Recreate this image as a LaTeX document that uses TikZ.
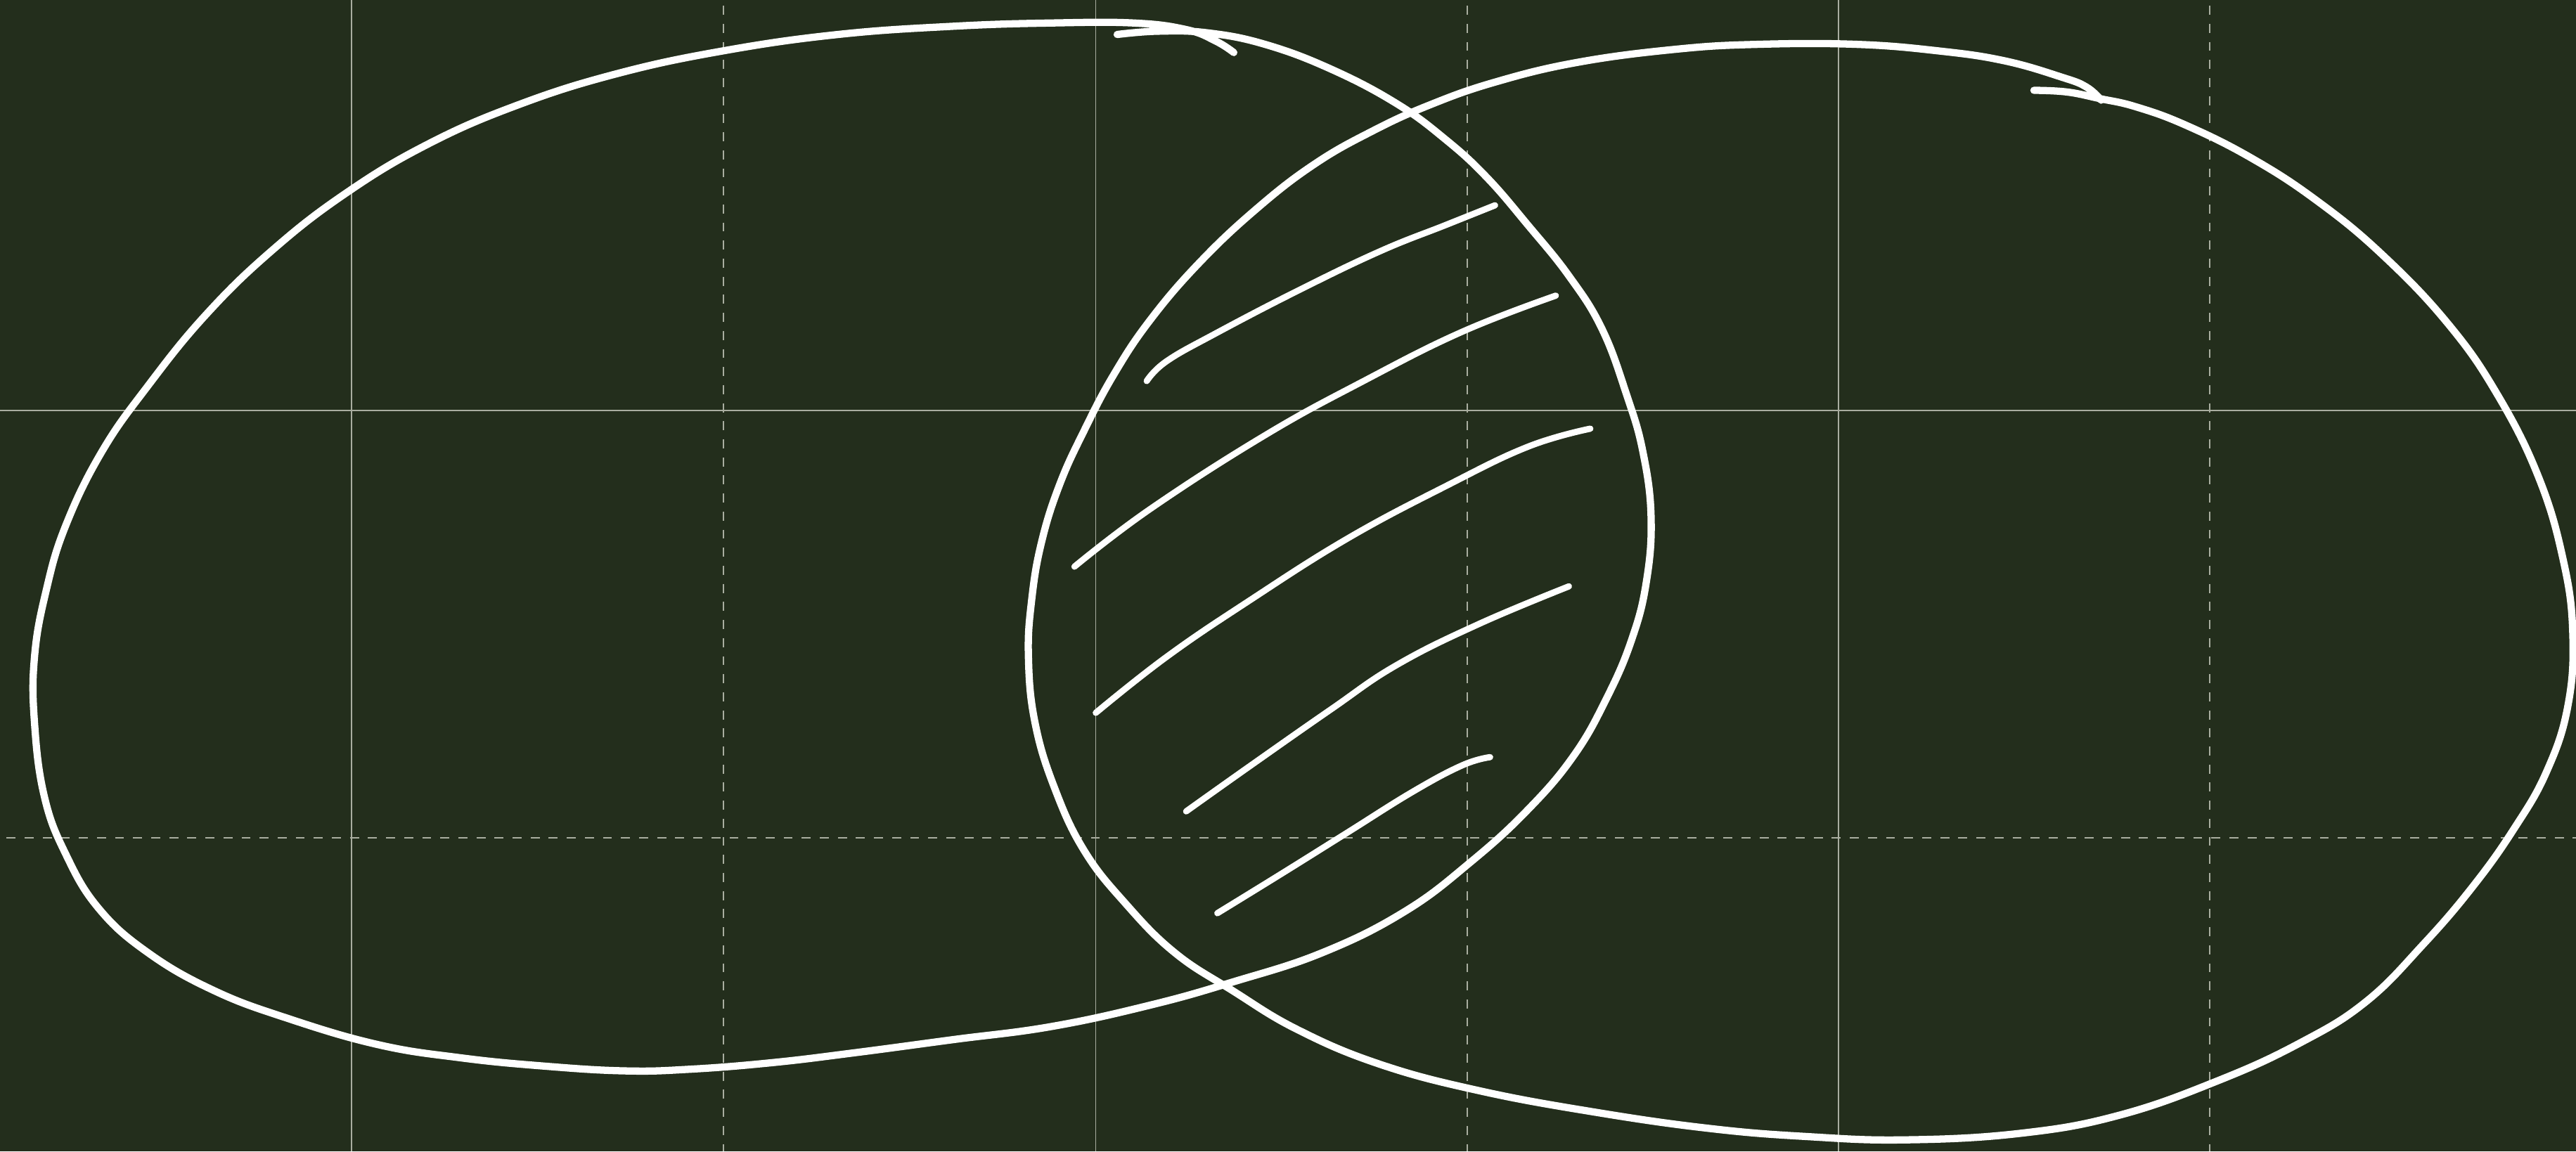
\documentclass[tikz,border=0pt]{standalone}
\definecolor{bgc}{HTML}{232E1C}
\definecolor{gridc}{HTML}{A9AEA0}
\tikzset{
  gridsolid/.style={draw=gridc, line width=0.7pt},
  griddash/.style={draw=gridc, line width=0.7pt, dash pattern=on 5.5pt off 5.5pt},
  ink/.style={draw=white, line width=4.4pt, line cap=round, line join=round},
  hatch/.style={draw=white, line width=3.8pt, line cap=round, line join=round},
}
\begin{document}
\begin{tikzpicture}[x=1pt,y=-1pt]
\fill[bgc] (0,0) rectangle (1568,701);
\useasboundingbox (0,0) rectangle (1568,701);
% grid
\foreach \gx in {214,667,1119} \draw[gridsolid] (\gx,0) -- (\gx,701);
\foreach \gx in {440.4,893.1,1345} \draw[griddash] (\gx,3.5) -- (\gx,701);
\draw[gridsolid] (0,250) -- (1568,250);
\draw[griddash] (4,510) -- (1568,510);
% left ellipse
\draw[ink] plot[smooth, tension=0.7] coordinates {
(680,21) (705,19) (735,20) (770,27) (810,42) (850,63) (880,85) (905,108) (930,137) (955,168) (975,200) (990,240) (1000,275) (1005,315) (1002,355) (993,390) (978,425) (958,460) (930,493) (895,525) (855,555) (805,580) (750,598) (700,612) (640,625) (580,633) (520,641) (470,647) (420,651) (380,652) (330,649) (280,644) (230,636) (175,620) (130,603) (90,580) (60,553) (40,520) (27,485) (21,440) (21,400) (28,360) (40,320) (62,275) (90,235) (125,192) (165,153) (210,118) (260,88) (315,64) (375,45) (440,31) (510,21) (580,16) (640,14) (690,14) (722,18) (740,25) (751,32)};
% right ellipse
\draw[ink] plot[smooth, tension=0.7] coordinates {
(1238,55) (1258,56) (1278,60) (1300,65) (1330,76) (1370,96) (1410,122) (1450,155) (1490,197) (1520,240) (1545,290) (1560,340) (1566,385) (1563,430) (1550,470) (1530,505) (1505,540) (1475,575) (1440,610) (1400,635) (1350,658) (1290,679) (1230,690) (1160,694) (1100,692) (1040,687) (970,677) (900,664) (840,648) (790,627) (750,603) (715,580) (685,550) (660,518) (642,480) (630,440) (626,400) (628,365) (634,330) (645,295) (660,262) (678,228) (700,195) (730,160) (765,127) (800,100) (835,80) (870,64) (910,50) (960,38) (1020,30) (1070,27) (1130,27) (1180,31) (1220,37) (1255,47) (1270,53) (1279,61)};
% hatching
\draw[hatch] plot[smooth, tension=0.7] coordinates {(698,232) (710,220) (740,203) (790,177) (840,153) (880,137) (910,125)};
\draw[hatch] plot[smooth, tension=0.7] coordinates {(654,345) (700,310) (770,265) (830,232) (890,202) (947,180)};
\draw[hatch] plot[smooth, tension=0.7] coordinates {(667,434) (710,400) (760,366) (820,328) (880,296) (930,272) (968,261)};
\draw[hatch] plot[smooth, tension=0.7] coordinates {(722,494) (760,467) (810,432) (850,405) (900,380) (955,357)};
\draw[hatch] plot[smooth, tension=0.7] coordinates {(741,556) (780,532) (820,507) (860,482) (890,466) (907,461)};
\end{tikzpicture}
\end{document}
